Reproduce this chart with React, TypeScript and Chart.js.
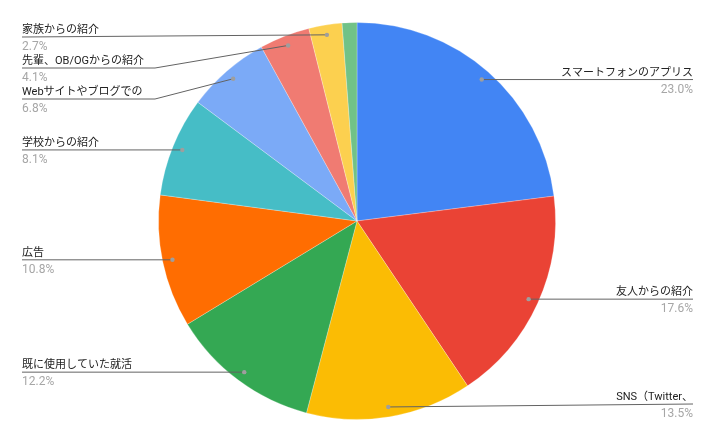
import React, { useEffect, useRef } from "react";
import { Chart, registerables } from "chart.js";

Chart.register(...registerables);

const categories = [
  "スマートフォンのアプリス",
  "友人からの紹介",
  "SNS（Twitter、",
  "既に使用していた就活",
  "広告",
  "学校からの紹介",
  "Webサイトやブログでの",
  "先輩、OB/OGからの紹介",
  "家族からの紹介",
  "その他",
];
const values = [23.0, 17.6, 13.5, 12.2, 10.8, 8.1, 6.8, 4.1, 2.7, 1.2];
const colors = [
  "#4285F4",
  "#EA4335",
  "#FBBC04",
  "#34A853",
  "#FF6D01",
  "#46BDC6",
  "#7BAAF7",
  "#F07B72",
  "#FCD04F",
  "#71C287",
];

const labelPlugin = {
  id: "outLabels",
  afterDraw(chart: any) {
    const ctx = chart.ctx as CanvasRenderingContext2D;
    const meta = chart.getDatasetMeta(0);
    const W = chart.width;
    const H = chart.height;
    const items: any[] = [];
    meta.data.forEach((arc: any, i: number) => {
      const v = values[i];
      if (v < 2) return;
      const p = arc.getProps(["x", "y", "startAngle", "endAngle", "outerRadius"], true);
      const mid = (p.startAngle + p.endAngle) / 2;
      const r = p.outerRadius * 0.95;
      const dx = p.x + Math.cos(mid) * r;
      const dy = p.y + Math.sin(mid) * r;
      items.push({ i, dx, dy, right: dx >= p.x, y: dy });
    });
    const minY = 37;
    const maxY = H - 38;
    const gap = 31;
    const left = items.filter((it) => !it.right).sort((a, b) => a.dy - b.dy);
    let prev = -1e9;
    left.forEach((it) => {
      it.y = Math.min(maxY, Math.max(minY, it.dy, prev + gap));
      prev = it.y;
    });
    const right = items.filter((it) => it.right).sort((a, b) => a.dy - b.dy);
    prev = -1e9;
    right.forEach((it) => {
      it.y = Math.min(maxY, Math.max(minY, it.dy, prev + gap));
      prev = it.y;
    });
    const leftX = 22;
    const rightX = W - 23;
    const elbowX = 155;
    ctx.save();
    items.forEach((it) => {
      ctx.strokeStyle = "#636363";
      ctx.lineWidth = 1;
      ctx.beginPath();
      if (it.right) {
        ctx.moveTo(it.dx, it.dy);
        ctx.lineTo(rightX, it.y);
      } else {
        ctx.moveTo(leftX, it.y);
        if (Math.abs(it.y - it.dy) > 4) {
          ctx.lineTo(elbowX, it.y);
          ctx.lineTo(it.dx, it.dy);
        } else {
          ctx.lineTo(it.dx, it.dy);
        }
      }
      ctx.stroke();
      ctx.fillStyle = "#9e9e9e";
      ctx.beginPath();
      ctx.arc(it.dx, it.dy, 2.2, 0, Math.PI * 2);
      ctx.fill();
      ctx.textAlign = it.right ? "right" : "left";
      ctx.textBaseline = "alphabetic";
      const tx = it.right ? rightX : leftX;
      ctx.font = '11px Roboto, "Noto Sans CJK JP", sans-serif';
      ctx.fillStyle = "#222222";
      ctx.fillText(categories[it.i], tx, it.y - 4);
      ctx.fillStyle = "#a6a6a6";
      ctx.font = '12px Roboto, "Noto Sans CJK JP", sans-serif';
      ctx.fillText(values[it.i].toFixed(1) + "%", tx, it.y + 13);
    });
    ctx.restore();
  },
};

export default function App() {
  const ref = useRef<HTMLCanvasElement>(null);
  useEffect(() => {
    document.body.style.margin = "0";
    const chart = new Chart(ref.current!, {
      type: "pie",
      data: {
        labels: categories,
        datasets: [
          {
            data: values,
            backgroundColor: colors,
            borderColor: "rgba(255,255,255,0.25)",
            borderWidth: 1,
          },
        ],
      },
      options: {
        animation: false,
        responsive: false,
        layout: { padding: { top: 22, bottom: 22, left: 0, right: 2 } },
        plugins: {
          legend: { display: false },
          tooltip: { enabled: false },
        },
      },
      plugins: [labelPlugin],
    });
    return () => chart.destroy();
  }, []);
  return (
    <div style={{ width: 716, height: 442, background: "#fff" }}>
      <canvas ref={ref} width={716} height={442} />
    </div>
  );
}
